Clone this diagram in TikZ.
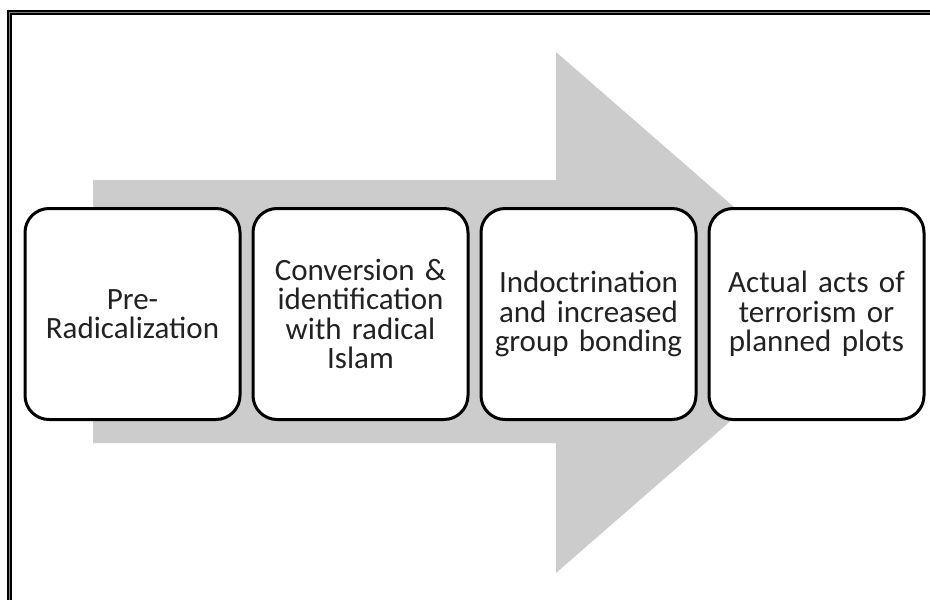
\documentclass[tikz,border=0pt]{standalone}
\usepackage{fontspec}
\setmainfont[WordSpace=0.85]{Carlito}
\usepackage{tikz}
\usetikzlibrary{positioning}
\definecolor{arrowgray}{RGB}{204,204,204}
\definecolor{textdark}{RGB}{34,34,34}

\begin{document}
\begin{tikzpicture}[
  x=1pt, y=-1pt,
  stagebox/.style={rectangle, rounded corners=24pt, draw=black, line width=3pt, fill=white,
    minimum width=215pt, minimum height=211pt, text width=200pt, align=center, inner sep=0pt,
    font=\fontsize{31}{29.5}\selectfont, text=textdark},
  frameline/.style={draw=black, line width=1.3pt, double=gray, double distance=1.6pt}
]
\useasboundingbox (0,0) rectangle (930,600);
\clip (0,0) rectangle (930,600);

% Outer frame (runs off the right and bottom)
\draw[frameline] (9.5,640) -- (9.5,12.5) -- (960,12.5);

% Big process arrow
\fill[arrowgray] (93,180) -- (556,180) -- (556,52) -- (855,312.5)
  -- (556,573) -- (556,443) -- (93,443) -- cycle;

% Stages
\node[stagebox] (prerad) at (132.5,314) {Pre-\\Radicalization};
\node[stagebox, right=10pt of prerad] (convert) {Conversion \&\\identification\\with radical\\Islam};
\node[stagebox, right=10pt of convert] (indoct) {Indoctrination\\and increased\\group bonding};
\node[stagebox, right=10pt of indoct] (acts) {Actual acts of\\terrorism or\\planned plots};

\end{tikzpicture}
\end{document}
